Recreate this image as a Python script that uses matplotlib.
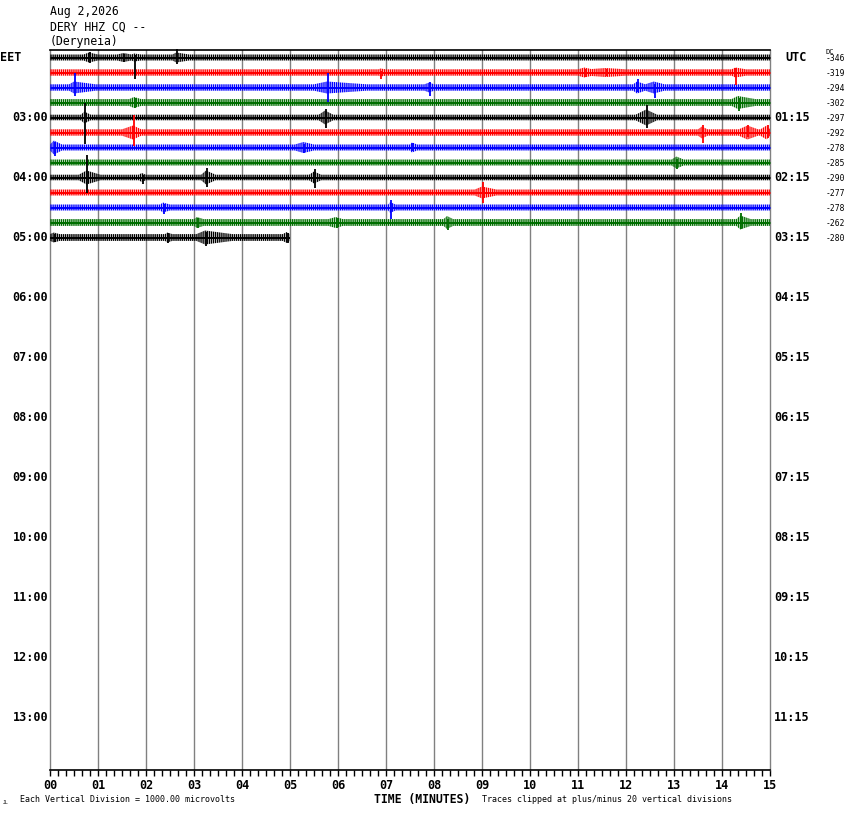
import numpy as np
import matplotlib
matplotlib.use("Agg")
import matplotlib.pyplot as plt
from matplotlib.ticker import MultipleLocator

# ---------------- data ----------------
title_lines = ["Aug 2,2026", "DERY HHZ CQ --", "(Deryneia)"]
left_hour_labels = ["03:00", "04:00", "05:00", "06:00", "07:00", "08:00",
                    "09:00", "10:00", "11:00", "12:00", "13:00"]
right_hour_labels = ["01:15", "02:15", "03:15", "04:15", "05:15", "06:15",
                     "07:15", "08:15", "09:15", "10:15", "11:15"]
minute_labels = ["%02d" % m for m in range(16)]
dc_offsets = [-346, -319, -294, -302, -297, -292, -278, -285, -290, -277, -278, -262, -280]
trace_colors = ["#000000", "#ff0000", "#0000ff", "#006e00"]
trace_end_min = [15, 15, 15, 15, 15, 15, 15, 15, 15, 15, 15, 15, 5.0]
noise_px = [3.0, 3.2, 3.2, 3.4, 2.8, 3.2, 3.0, 3.0, 2.8, 3.0, 3.0, 3.4, 3.4]

# events: row, minute, peak up (px), peak down (px), coda half-amp (px), coda start, coda end (min)
ev_row   = [0, 0, 0, 0, 1, 1, 1, 1, 2, 2, 2, 2, 2, 3, 3, 4, 4, 4, 5, 5, 5, 5,
            6, 6, 6, 7, 8, 8, 8, 8, 9, 10, 10, 11, 11, 11, 11, 12, 12, 12, 12]
ev_min   = [0.83, 1.55, 1.77, 2.65, 6.90, 11.15, 14.30, 11.6, 0.52, 5.79, 7.92, 12.25, 12.60,
            1.77, 14.35, 0.73, 5.75, 12.44, 1.75, 13.60, 14.55, 14.95,
            0.10, 5.30, 7.56, 13.07, 0.78, 1.93, 3.27, 5.52, 9.02, 2.37, 7.10,
            3.08, 5.97, 8.29, 14.40, 0.10, 2.46, 3.25, 4.95]
ev_up    = [6, 4, 3, 9, 2, 4, 5, 4, 15, 15, 6, 9, 4, 5, 5, 15, 9, 13, 18, 8, 8, 8,
            6, 4, 5, 4, 23, 3, 10, 9, 11, 4, 8, 5, 5, 4, 10, 4, 5, 6, 5]
ev_down  = [5, 4, 21, 6, 6, 4, 12, 3, 8, 14, 8, 4, 10, 5, 8, 26, 10, 10, 13, 10, 4, 5,
            8, 5, 3, 6, 15, 6, 9, 10, 10, 6, 11, 5, 5, 7, 6, 4, 5, 8, 5]
ev_coda  = [5, 4.5, 4, 5, 4, 5, 5, 4.5, 6, 6, 5, 6, 6, 5.5, 6.5, 6, 7, 8, 7, 6, 7, 7,
            7, 5.5, 5, 6, 7, 4.5, 7, 6, 6, 5, 5.5, 5.5, 5.5, 6.5, 7, 5, 5, 7, 5.5]
ev_cs    = [0.70, 1.40, 1.70, 2.55, 6.85, 11.00, 14.20, 11.2, 0.40, 5.50, 7.80, 12.15, 12.40,
            1.65, 14.20, 0.65, 5.60, 12.20, 1.50, 13.50, 14.35, 14.80,
            0.00, 5.10, 7.50, 12.95, 0.60, 1.85, 3.15, 5.40, 8.85, 2.30, 7.05,
            3.00, 5.80, 8.20, 14.30, 0.00, 2.40, 3.05, 4.85]
ev_ce    = [1.00, 1.70, 1.90, 2.90, 7.00, 11.30, 14.50, 12.0, 0.95, 6.60, 8.00, 12.40, 12.80,
            1.90, 14.70, 0.85, 5.90, 12.65, 1.90, 13.70, 14.75, 15.00,
            0.25, 5.50, 7.65, 13.20, 1.05, 2.00, 3.45, 5.65, 9.30, 2.50, 7.20,
            3.20, 6.10, 8.40, 14.60, 0.20, 2.55, 3.80, 5.00]

# ---------------- figure ----------------
W, H = 850, 814
plt.rcParams["hatch.linewidth"] = 1.0
fig = plt.figure(figsize=(W / 100, H / 100), dpi=100)
ax = fig.add_axes([50 / W, (H - 770) / H, 720 / W, 720 / H])
ax.set_xlim(0, 15)
ax.set_ylim(720, 0)

def fx(px):
    return px / W

def fy(py):
    return 1 - py / H

mono = "DejaVu Sans Mono"
grid_c = "#808080"

for m in range(1, 15):
    ax.axvline(m, color=grid_c, lw=1.0, zorder=1)

for r in range(len(dc_offsets)):
    c = trace_colors[r % 4]
    y0 = 7.5 + 15 * r
    end = trace_end_min[r]
    x = np.linspace(0, end, int(end * 48 * 2) + 1)
    env = np.full_like(x, noise_px[r])
    for i in range(len(ev_row)):
        if ev_row[i] != r:
            continue
        shape = np.interp(x, [ev_cs[i], ev_min[i] - 0.02, ev_ce[i]],
                          [noise_px[r], ev_coda[i], noise_px[r]],
                          left=noise_px[r], right=noise_px[r])
        env = np.maximum(env, shape)
    # textured envelope (vertical hatch) + solid core line
    ax.fill_between(x, y0 - env, y0 + env, facecolor="none", edgecolor=c,
                    hatch="||||||||", lw=0, zorder=3)
    ax.fill_between(x, y0 - 1.0, y0 + 1.0, color=c, lw=0, zorder=3)
    for i in range(len(ev_row)):
        if ev_row[i] != r:
            continue
        ax.vlines(ev_min[i], y0 - ev_up[i], y0 + ev_down[i], color=c, lw=1.3,
                  zorder=4, clip_on=False)

for s in ("top", "bottom"):
    ax.spines[s].set_color("black")
    ax.spines[s].set_linewidth(1.2)
for s in ("left", "right"):
    ax.spines[s].set_color(grid_c)
    ax.spines[s].set_linewidth(1.0)

ax.set_yticks([])
ax.set_xticks(range(16))
ax.set_xticklabels(minute_labels, fontfamily=mono, fontweight="bold", fontsize=8.5)
ax.xaxis.set_minor_locator(MultipleLocator(1 / 6))
ax.tick_params(axis="x", which="both", direction="out", length=6 * 0.72,
               width=1.0, color="black", pad=2)

ytr = ax.get_yaxis_transform()
for k, lab in enumerate(left_hour_labels):
    r = 4 * (k + 1)
    ax.text(-2 / 720, 7.5 + 15 * r, lab, transform=ytr,
            ha="right", va="center", fontfamily=mono, fontweight="bold", fontsize=8.5)
for k, lab in enumerate(right_hour_labels):
    r = 4 * (k + 1)
    ax.text(1 + 4 / 720, 7.5 + 15 * r, lab, transform=ytr,
            ha="left", va="center", fontfamily=mono, fontweight="bold", fontsize=8.5)
ax.text(-50 / 720, 7.5, "EET", transform=ytr,
        ha="left", va="center", fontfamily=mono, fontweight="bold", fontsize=8.5)
ax.text(1 + 15 / 720, 7.5, "UTC", transform=ytr,
        ha="left", va="center", fontfamily=mono, fontweight="bold", fontsize=8.5)
for r, v in enumerate(dc_offsets):
    ax.text(776 / 720, 7.5 + 15 * r + 1, str(v), transform=ytr,
            ha="left", va="center", fontfamily=mono, fontsize=5.8)
fig.text(fx(826), fy(52), "DC", ha="left", va="center", fontfamily=mono, fontsize=5)

for k, t in enumerate(title_lines):
    fig.text(fx(50), fy(12 + 15 * k), t, ha="left", va="center",
             fontfamily=mono, fontsize=8.3)

fig.text(fx(422), fy(799), "TIME (MINUTES)", ha="center", va="center",
         fontfamily=mono, fontweight="bold", fontsize=8.3)
fig.text(fx(20), fy(800), "Each Vertical Division = 1000.00 microvolts", ha="left",
         va="center", fontfamily=mono, fontsize=6)
fig.text(fx(482), fy(800), "Traces clipped at plus/minus 20 vertical divisions", ha="left",
         va="center", fontfamily=mono, fontsize=6)
fig.text(fx(3), fy(802), "JL", ha="left", va="center", fontfamily=mono, fontsize=3.5)

fig.savefig("out.png", dpi=100)
